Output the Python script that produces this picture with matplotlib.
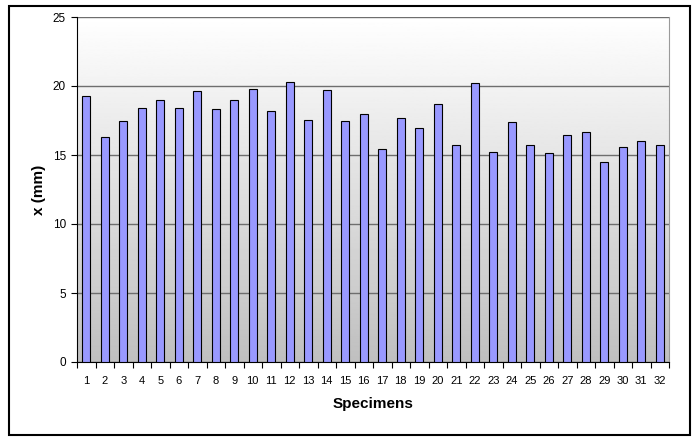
import numpy as np
import matplotlib
matplotlib.use('Agg')
import matplotlib.pyplot as plt
from matplotlib.patches import Rectangle

specimens = list(range(1, 33))
x_mm = [19.26, 16.27, 17.45, 18.39, 19.0, 18.42, 19.67, 18.35, 18.95, 19.77,
        18.22, 20.27, 17.52, 19.70, 17.50, 17.94, 15.40, 17.69, 16.97, 18.73,
        15.76, 20.20, 15.25, 17.38, 15.76, 15.18, 16.44, 16.65, 14.50, 15.55,
        16.05, 15.73]
y_ticks = [0, 5, 10, 15, 20, 25]

plt.rcParams['font.family'] = ['Liberation Sans', 'DejaVu Sans']

fig = plt.figure(figsize=(6.99, 4.37), dpi=100)
ax = fig.add_axes([77 / 699, 1 - 362 / 437, (669 - 77) / 699, (362 - 17) / 437])

# outer chart border
fig.patches.append(Rectangle((9 / 699, 2 / 437), 681 / 699, 429 / 437,
                             transform=fig.transFigure, fill=False,
                             edgecolor='black', linewidth=1.5))

# gradient plot area, white at top to grey at bottom
grad = np.linspace(1.0, 0.75, 256).reshape(-1, 1)
ax.imshow(grad, cmap='gray', vmin=0, vmax=1, aspect='auto',
          extent=[0, 1, 0, 1], transform=ax.transAxes, zorder=0)

pos = np.arange(len(specimens))
ax.bar(pos, x_mm, width=0.43, color='#9999FF', edgecolor='black',
       linewidth=0.8, zorder=3)

ax.set_xlim(-0.5, len(specimens) - 0.5)
ax.set_ylim(0, 25)
ax.set_yticks(y_ticks)
ax.yaxis.grid(True, color='#6e6e6e', linewidth=1.0, zorder=1)
ax.set_axisbelow(True)

ax.set_xticks(pos)
ax.set_xticklabels([str(s) for s in specimens], fontsize=8)
ax.set_xticks(np.arange(-0.5, len(specimens)), minor=True)
ax.tick_params(axis='x', which='major', length=0, pad=10)
ax.tick_params(axis='x', which='minor', length=4, width=0.8, direction='out')
ax.tick_params(axis='y', length=4, width=0.8, labelsize=8.5, pad=4)

ax.spines['top'].set_visible(False)
ax.spines['right'].set_color('#9a9a9a')
ax.spines['left'].set_linewidth(0.8)
ax.spines['bottom'].set_linewidth(0.8)

ax.set_xlabel('Specimens', fontsize=11, fontweight='bold', labelpad=8)
ax.set_ylabel('x (mm)', fontsize=11, fontweight='bold', labelpad=5)

fig.savefig('out.png', dpi=100)
